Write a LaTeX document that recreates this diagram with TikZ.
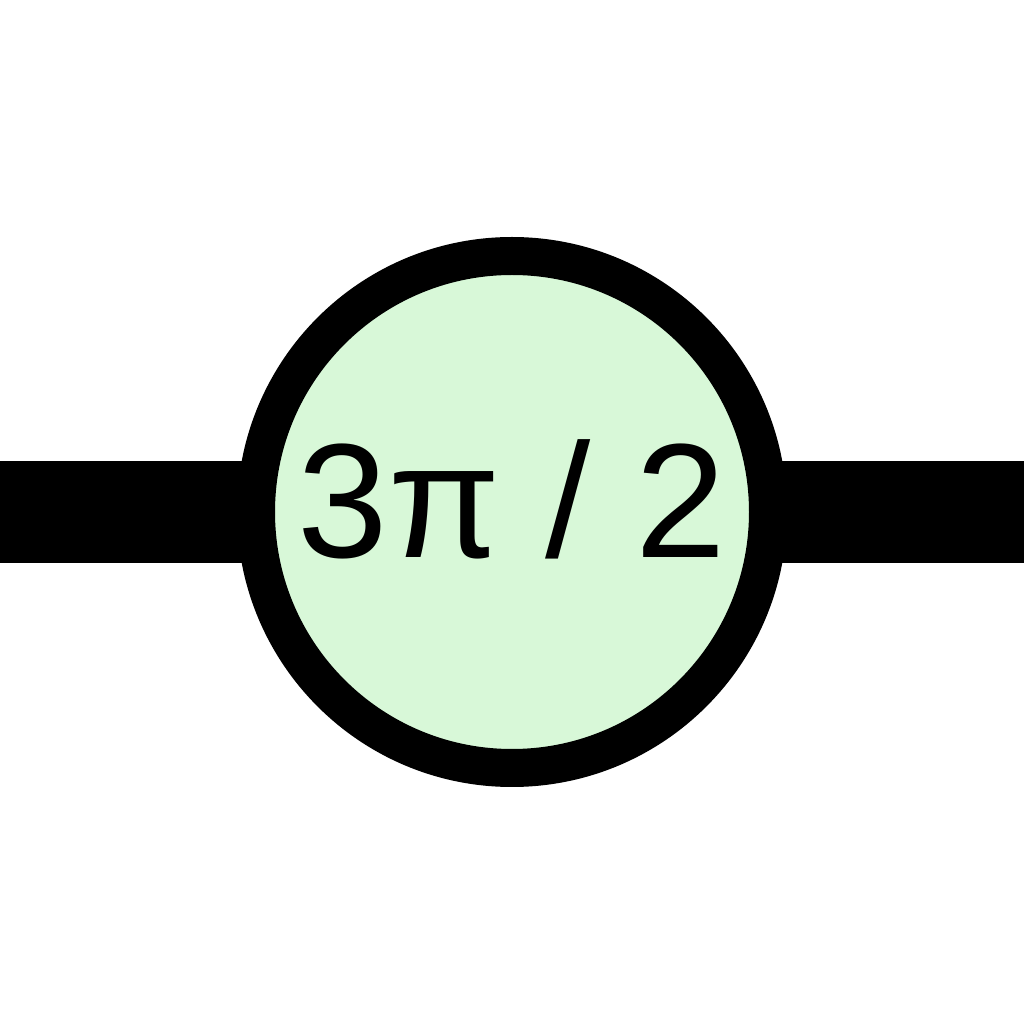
\documentclass[tikz,border=0pt]{standalone}
\usepackage{fontspec}
\setmainfont{Liberation Sans}
\definecolor{phasefill}{HTML}{D8F8D8}
\tikzset{
  wire/.style={line width=1.02cm},
  phasenode/.style={circle, draw, line width=0.38cm, fill=phasefill, minimum size=5.12cm, inner sep=0pt},
  phasetext/.style={font=\fontsize{46.3}{55}\selectfont, inner sep=0pt, anchor=base}
}
\begin{document}
\begin{tikzpicture}
  \useasboundingbox (0,0) rectangle (10.24,10.24);
  % wire ends
  \coordinate (in) at (0,5.12);
  \coordinate (out) at (10.24,5.12);
  % wire
  \draw[wire] (in) -- (out);
  % phase
  \node[phasenode] (phase) at (5.12,5.12) {};
  \node[phasetext] (angle) at (5.12,4.66) {3π / 2};
\end{tikzpicture}
\end{document}
